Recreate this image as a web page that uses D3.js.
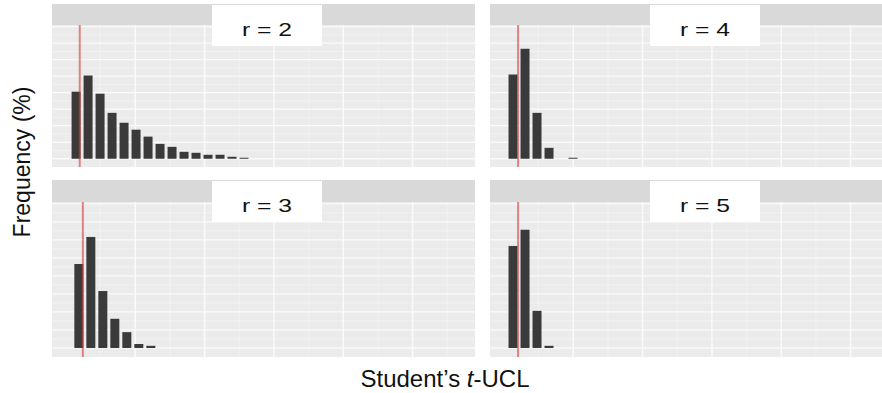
<!DOCTYPE html>
<html>
<head>
<meta charset="utf-8">
<script src="https://cdn.jsdelivr.net/npm/d3@7"></script>
<style>
  html, body { margin: 0; padding: 0; background: #ffffff; }
  svg { display: block; }
  text { font-family: "Liberation Sans", Arial, sans-serif; fill: #111; }
</style>
</head>
<body>
<div id="chart"></div>
<script>
// ---------------- data ----------------
const panelLabels = ["r = 2", "r = 3", "r = 4", "r = 5"];
// frequency (%) of each histogram bin
const freqR2 = [20.3, 25.2, 19.7, 13.9, 10.9, 8.8, 6.7, 4.5, 3.6, 2.1, 1.8, 1.2, 1.2, 0.6, 0.3];
const freqR3 = [23.3, 30.8, 15.8, 8.1, 4.4, 1.1, 0.6];
const freqR4 = [25.5, 33.3, 13.9, 3.3, 0, 0.3];
const freqR5 = [28.3, 32.8, 10.3, 0.6];
const binStarts = [0.75, 1.15, 0.6, 0.6];   // first bin edge per panel
const binWidth = 1.73;
const refValues = [2.0, 2.45, 2.05, 2.05];  // red reference line per panel
const xMajor = [10, 20, 30, 40, 50];
const xMinor = [5, 15, 25, 35, 45, 55];
const yMajor = [0, 5, 10, 15, 20, 25, 30, 35, 40];
const yMinor = [2.5, 7.5, 12.5, 17.5, 22.5, 27.5, 32.5, 37.5];
const xDomain = [-2, 59];
const yDomain = [-2.5, 40.5];
const yTitle = "Frequency (%)";

const seriesList = [freqR2, freqR3, freqR4, freqR5];

// ---------------- layout ----------------
const W = 882, H = 393;
const colLeft = [52, 490];
const panelW = 423;
const rows = [
  { stripTop: 4, plotTop: 25, plotBottom: 167 },
  { stripTop: 180, plotTop: 202, plotBottom: 357 }
];
const panelPos = [ {row: 0, col: 0}, {row: 1, col: 0}, {row: 0, col: 1}, {row: 1, col: 1} ];

const svg = d3.select("#chart").append("svg")
  .attr("width", W).attr("height", H);

panelLabels.forEach((lab, i) => {
  const pos = panelPos[i];
  const r = rows[pos.row];
  const left = colLeft[pos.col];
  const x = d3.scaleLinear().domain(xDomain).range([left, left + panelW]);
  const y = d3.scaleLinear().domain(yDomain).range([r.plotBottom, r.plotTop]);

  const clipId = "clip" + i;
  svg.append("clipPath").attr("id", clipId)
    .append("rect").attr("x", left).attr("y", r.stripTop)
    .attr("width", panelW).attr("height", r.plotBottom - r.stripTop);

  const g = svg.append("g").attr("clip-path", `url(#${clipId})`);

  // strip
  g.append("rect").attr("x", left).attr("y", r.stripTop)
    .attr("width", panelW).attr("height", r.plotTop - r.stripTop)
    .attr("fill", "#d9d9d9");
  // panel background
  g.append("rect").attr("x", left).attr("y", r.plotTop)
    .attr("width", panelW).attr("height", r.plotBottom - r.plotTop)
    .attr("fill", "#ebebeb");

  // grid
  g.selectAll(".ymin").data(yMinor).join("line")
    .attr("x1", left).attr("x2", left + panelW)
    .attr("y1", d => y(d)).attr("y2", d => y(d))
    .attr("stroke", "#f4f4f4").attr("stroke-width", 0.8);
  g.selectAll(".xmin").data(xMinor).join("line")
    .attr("y1", r.plotTop).attr("y2", r.plotBottom)
    .attr("x1", d => x(d)).attr("x2", d => x(d))
    .attr("stroke", "#f3f3f3").attr("stroke-width", 0.8);
  g.selectAll(".ymaj").data(yMajor).join("line")
    .attr("x1", left).attr("x2", left + panelW)
    .attr("y1", d => y(d)).attr("y2", d => y(d))
    .attr("stroke", "#fafafa").attr("stroke-width", 1.3);
  g.selectAll(".xmaj").data(xMajor).join("line")
    .attr("y1", r.plotTop).attr("y2", r.plotBottom)
    .attr("x1", d => x(d)).attr("x2", d => x(d))
    .attr("stroke", "#fafafa").attr("stroke-width", 1.5);

  // bars
  const bins = seriesList[i].map((v, k) => ({
    x0: binStarts[i] + k * binWidth,
    x1: binStarts[i] + (k + 1) * binWidth,
    v: v
  }));
  g.selectAll(".bar").data(bins.filter(b => b.v > 0)).join("rect")
    .attr("x", d => x(d.x0) + 0.5)
    .attr("width", d => x(d.x1) - x(d.x0) - 3)
    .attr("y", d => y(d.v))
    .attr("height", d => y(0) - y(d.v))
    .attr("fill", "#3a3a3a");

  // reference line
  g.append("line")
    .attr("x1", x(refValues[i])).attr("x2", x(refValues[i]))
    .attr("y1", r.plotTop).attr("y2", r.plotBottom)
    .attr("stroke", "#d23c3c").attr("stroke-opacity", 0.6)
    .attr("stroke-width", 2);

  // label box
  const bx = left + 160, by = r.stripTop + 1;
  svg.append("rect").attr("x", bx).attr("y", by)
    .attr("width", 110).attr("height", 41).attr("fill", "#ffffff");
  svg.append("text")
    .attr("transform", `translate(${bx + 55},${by + 31}) scale(1.3,1)`)
    .attr("text-anchor", "middle")
    .attr("font-size", 19)
    .text(lab);
});

// axis titles
svg.append("text")
  .attr("transform", "translate(30,162) rotate(-90)")
  .attr("text-anchor", "middle")
  .attr("font-size", 23)
  .text(yTitle);

const xt = svg.append("text")
  .attr("x", 445).attr("y", 387)
  .attr("text-anchor", "middle")
  .attr("font-size", 24);
xt.append("tspan").text("Student\u2019s ");
xt.append("tspan").attr("font-style", "italic").text("t");
xt.append("tspan").text("-UCL");
</script>
</body>
</html>
